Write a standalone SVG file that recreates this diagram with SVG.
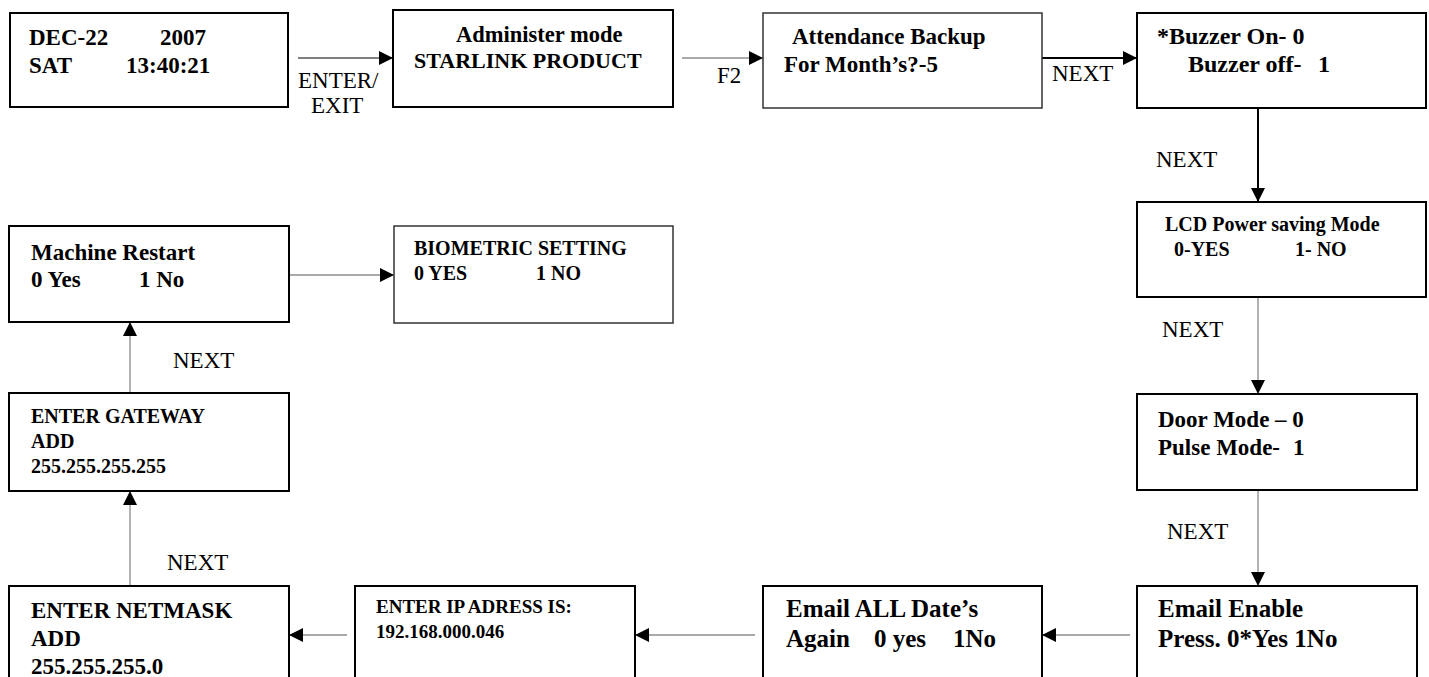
<svg xmlns="http://www.w3.org/2000/svg" width="1429" height="677" viewBox="0 0 1429 677">
  <style>
    .box { fill: #fff; stroke: #000; stroke-width: 2; }
    .box-thin { fill: #fff; stroke: #333; stroke-width: 1.5; }
    .t { font-family: "Liberation Serif", "Times New Roman", serif; font-weight: bold; fill: #000; }
    .lbl { font-family: "Liberation Serif", "Times New Roman", serif; font-size: 23px; fill: #000; }
    .c-dark { stroke: #000; stroke-width: 1; fill: none; }
    .c-bold { stroke: #000; stroke-width: 2; fill: none; }
    .c-grey { stroke: #999; stroke-width: 1.5; fill: none; }
    .c-mid { stroke: #555; stroke-width: 1; fill: none; }
  </style>
  <defs>
    <marker id="arrow" markerUnits="userSpaceOnUse" markerWidth="15" markerHeight="15" refX="14" refY="7" orient="auto">
      <path d="M0,0 L14,7 L0,14 Z" fill="#000"/>
    </marker>
  </defs>
  <rect width="1429" height="677" fill="#fff"/>

  <!-- connectors -->
  <g id="connectors">
    <line class="c-dark" x1="298" y1="58" x2="393" y2="58" marker-end="url(#arrow)"/>
    <line class="c-mid" x1="682" y1="58" x2="763" y2="58" marker-end="url(#arrow)"/>
    <line class="c-bold" x1="1042" y1="58" x2="1137" y2="58" marker-end="url(#arrow)"/>
    <line class="c-bold" x1="1258" y1="108" x2="1258" y2="202" marker-end="url(#arrow)"/>
    <line class="c-grey" x1="1258" y1="297" x2="1258" y2="394" marker-end="url(#arrow)"/>
    <line class="c-grey" x1="1258" y1="490" x2="1258" y2="586" marker-end="url(#arrow)"/>
    <line class="c-mid" x1="1130" y1="635" x2="1042" y2="635" marker-end="url(#arrow)"/>
    <line class="c-mid" x1="755" y1="635" x2="635" y2="635" marker-end="url(#arrow)"/>
    <line class="c-mid" x1="347" y1="635" x2="289" y2="635" marker-end="url(#arrow)"/>
    <line class="c-grey" x1="130" y1="586" x2="130" y2="491" marker-end="url(#arrow)"/>
    <line class="c-grey" x1="130" y1="393" x2="130" y2="322" marker-end="url(#arrow)"/>
    <line class="c-mid" x1="289" y1="275" x2="394" y2="275" marker-end="url(#arrow)"/>

    <text class="lbl" x="298" y="88">ENTER/</text>
    <text class="lbl" x="311" y="113">EXIT</text>
    <text class="lbl" x="717" y="83">F2</text>
    <text class="lbl" x="1052" y="81">NEXT</text>
    <text class="lbl" x="1156" y="167">NEXT</text>
    <text class="lbl" x="1162" y="337">NEXT</text>
    <text class="lbl" x="1167" y="539">NEXT</text>
    <text class="lbl" x="173" y="368">NEXT</text>
    <text class="lbl" x="167" y="570">NEXT</text>
  </g>

  <!-- clock screen -->
  <g id="node-clock">
    <rect class="box" x="10" y="13" width="278" height="94"/>
    <text class="t" font-size="23" x="29" y="45">DEC-22</text>
    <text class="t" font-size="23" x="160" y="45">2007</text>
    <text class="t" font-size="23" x="29" y="73">SAT</text>
    <text class="t" font-size="23" x="126" y="73">13:40:21</text>
  </g>

  <g id="node-admin">
    <rect class="box" x="393" y="10" width="280" height="97"/>
    <text class="t" font-size="22.5" x="456" y="42">Administer mode</text>
    <text class="t" font-size="22" x="414" y="68">STARLINK PRODUCT</text>
  </g>

  <g id="node-backup">
    <rect class="box-thin" x="763" y="13" width="279" height="95"/>
    <text class="t" font-size="23" x="792" y="44">Attendance Backup</text>
    <text class="t" font-size="23" x="784" y="72">For Month’s?-5</text>
  </g>

  <g id="node-buzzer">
    <rect class="box" x="1137" y="13" width="289" height="95"/>
    <text class="t" font-size="24" x="1157" y="44">*Buzzer On- 0</text>
    <text class="t" font-size="24" x="1188" y="72">Buzzer off-</text>
    <text class="t" font-size="24" x="1318" y="72">1</text>
  </g>

  <g id="node-lcd">
    <rect class="box" x="1137" y="202" width="289" height="95"/>
    <text class="t" font-size="20" x="1165" y="231">LCD Power saving Mode</text>
    <text class="t" font-size="20" x="1174" y="256">0-YES</text>
    <text class="t" font-size="20" x="1295" y="256">1- NO</text>
  </g>

  <g id="node-door">
    <rect class="box" x="1137" y="394" width="280" height="96"/>
    <text class="t" font-size="23" x="1158" y="427">Door Mode – 0</text>
    <text class="t" font-size="23" x="1158" y="455">Pulse Mode-</text>
    <text class="t" font-size="23" x="1293" y="455">1</text>
  </g>

  <g id="node-email-enable">
    <rect class="box" x="1137" y="586" width="280" height="96"/>
    <text class="t" font-size="25" x="1158" y="617">Email Enable</text>
    <text class="t" font-size="25" x="1158" y="647">Press. 0*Yes 1No</text>
  </g>

  <g id="node-email-all">
    <rect class="box" x="763" y="586" width="279" height="96"/>
    <text class="t" font-size="25" x="786" y="617">Email ALL Date’s</text>
    <text class="t" font-size="25" x="786" y="647">Again</text>
    <text class="t" font-size="25" x="874" y="647">0 yes</text>
    <text class="t" font-size="25" x="953" y="647">1No</text>
  </g>

  <g id="node-ip">
    <rect class="box" x="355" y="586" width="280" height="96"/>
    <text class="t" font-size="19" x="376" y="613">ENTER IP ADRESS IS:</text>
    <text class="t" font-size="19" x="376" y="638">192.168.000.046</text>
  </g>

  <g id="node-netmask">
    <rect class="box" x="9" y="586" width="280" height="96"/>
    <text class="t" font-size="23" x="31" y="618">ENTER NETMASK</text>
    <text class="t" font-size="23" x="31" y="646">ADD</text>
    <text class="t" font-size="23" x="31" y="674">255.255.255.0</text>
  </g>

  <g id="node-gateway">
    <rect class="box" x="9" y="393" width="280" height="98"/>
    <text class="t" font-size="20" x="31" y="423">ENTER GATEWAY</text>
    <text class="t" font-size="20" x="31" y="448">ADD</text>
    <text class="t" font-size="20" x="31" y="473">255.255.255.255</text>
  </g>

  <g id="node-restart">
    <rect class="box" x="9" y="226" width="280" height="96"/>
    <text class="t" font-size="23" x="31" y="260">Machine Restart</text>
    <text class="t" font-size="23" x="31" y="287">0 Yes</text>
    <text class="t" font-size="23" x="139" y="287">1 No</text>
  </g>

  <g id="node-biometric">
    <rect class="box-thin" x="394" y="226" width="279" height="97"/>
    <text class="t" font-size="20" x="414" y="255">BIOMETRIC SETTING</text>
    <text class="t" font-size="20" x="414" y="280">0 YES</text>
    <text class="t" font-size="20" x="536" y="280">1 NO</text>
  </g>
</svg>
